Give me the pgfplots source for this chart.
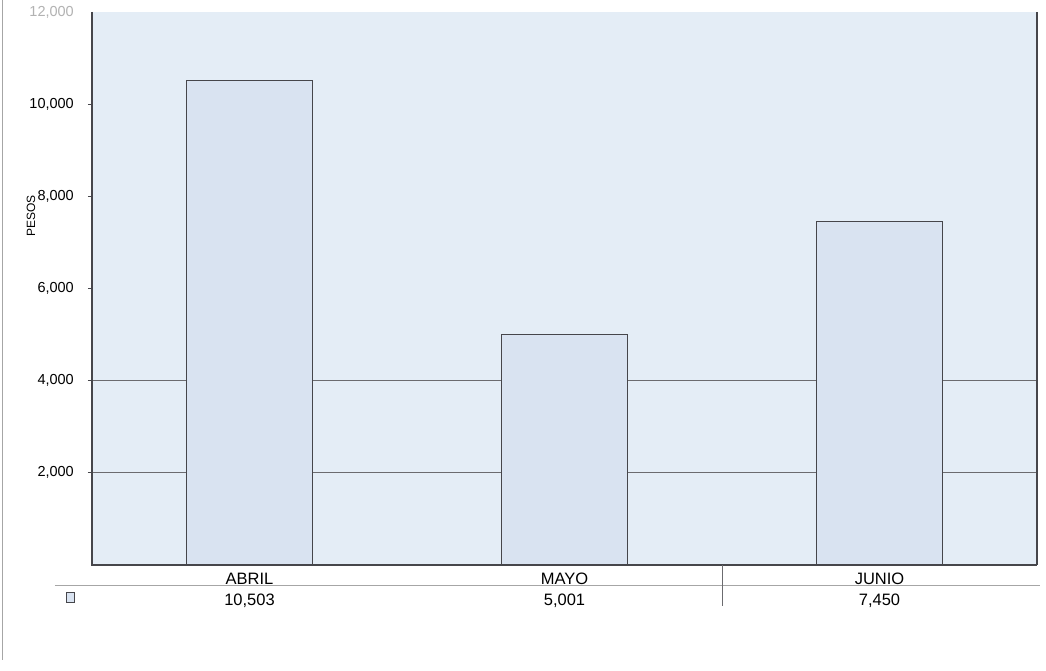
\documentclass[border=0pt]{standalone}
\usepackage{pgfplots}
\pgfplotsset{compat=1.18}
\usepackage{fontspec}
\setmainfont{Liberation Sans}

\definecolor{plotbg}{RGB}{228,237,246}
\definecolor{barfill}{RGB}{217,227,241}
\definecolor{edge}{RGB}{70,70,75}

\begin{document}
\begin{tikzpicture}
  % page = 1046 x 671, axis box from (92,12) to (1037,565) in image pixels
  \useasboundingbox (-92pt,-106pt) rectangle (954pt,565pt);
  \fill[white] (-92pt,-106pt) rectangle (954pt,565pt);
  \draw[gray!70, line width=1pt] (-89pt,565pt) -- (-89pt,-95pt);

  \begin{axis}[
      at={(0pt,0pt)}, anchor=south west,
      width=945pt, height=553pt, scale only axis,
      xmin=-0.5, xmax=2.5, ymin=0, ymax=12000,
      axis line style={draw=none},
      axis background/.style={fill=plotbg},
      xtick={0,1,2},
      xticklabels={{ABRIL\\10,503},{MAYO\\5,001},{JUNIO\\7,450}},
      x tick style={draw=none},
      xticklabel style={font=\fontsize{16.5}{20.7}\selectfont, align=center,
        anchor=north, inner sep=0pt, yshift=-4pt},
      ytick={2000,4000,6000,8000,10000},
      ytick pos=left,
      scaled y ticks=false,
      yticklabel style={font=\fontsize{14.5}{16}\selectfont, inner sep=0pt,
        anchor=east, xshift=-14pt},
      y tick style={edge, line width=0.8pt},
      tick align=outside, major tick length=4pt,
      /pgf/number format/.cd, 1000 sep={,}, assume math mode=true,
      /pgfplots/.cd,
      extra y ticks={2000,4000}, extra y tick labels={},
      extra y tick style={grid=major, major grid style={edge!80, line width=0.8pt}},
      ylabel={PESOS},
      y label style={at={(axis description cs:-0.0646,0.631)}, anchor=center,
        font=\fontsize{12}{14}\selectfont},
      clip=false,
    ]
    \addplot[ybar, bar width=126pt, fill=barfill, draw=edge, line width=1pt]
      coordinates {(0,10503) (1,5001) (2,7450)};

    % axis frame: left, bottom, right
    \draw[edge, line width=1.8pt] (rel axis cs:0,1) -- (rel axis cs:0,0) -- (rel axis cs:1,0);
    \draw[edge, line width=1.2pt] (rel axis cs:1,0) -- (rel axis cs:1,1);
    % faded top tick label of the scan
    \node[anchor=east, inner sep=0pt, text=gray!60, font=\fontsize{14.5}{16}\selectfont]
      at ([xshift=-18pt]rel axis cs:0,1) {12,000};
  \end{axis}

  % data table rules and legend key
  \draw[gray!70, line width=1pt] (-37pt,-21pt) -- (948pt,-21pt);
  \draw[edge!80, line width=0.8pt] (630pt,0pt) -- (630pt,-41pt);
  \draw[edge, line width=0.7pt, fill=barfill] (-26pt,-37pt) rectangle (-18pt,-27pt);
\end{tikzpicture}
\end{document}
